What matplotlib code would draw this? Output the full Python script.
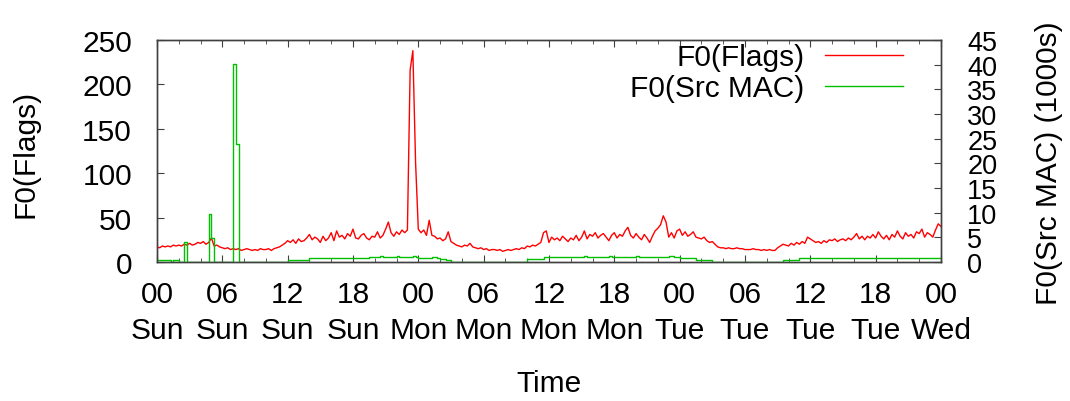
import numpy as np
import matplotlib.pyplot as plt
from matplotlib.ticker import MultipleLocator

plt.rcParams['font.family'] = ['Liberation Sans', 'DejaVu Sans']

# Tick labels for the time axis (every 6 hours)
tick_hours = [0, 6, 12, 18, 24, 30, 36, 42, 48, 54, 60, 66, 72]
tick_labels = ["00\nSun", "06\nSun", "12\nSun", "18\nSun",
               "00\nMon", "06\nMon", "12\nMon", "18\nMon",
               "00\nTue", "06\nTue", "12\nTue", "18\nTue", "00\nWed"]

# Sampling step of both series, in hours (15 minutes)
step = 0.25

# F0(Flags), one value per 15 minutes
flags = [
    17, 16, 18, 17, 18, 17, 19, 18, 19, 18, 20, 19,
    21, 19, 20, 22, 21, 23, 20, 22, 27, 18, 19, 17,
    16, 15, 16, 14, 15, 14, 15, 13, 14, 15, 14, 13,
    14, 13, 15, 14, 14, 15, 13, 15, 16, 17, 19, 21,
    24, 22, 25, 21, 26, 23, 24, 27, 31, 25, 28, 26,
    22, 29, 24, 27, 33, 24, 35, 28, 30, 26, 32, 29,
    37, 27, 26, 30, 32, 27, 25, 29, 28, 34, 27, 30,
    37, 45, 33, 29, 34, 31, 36, 33, 36, 216, 238, 112,
    37, 33, 36, 30, 47, 30, 29, 26, 27, 24, 26, 34,
    23, 21, 19, 18, 17, 19, 18, 21, 17, 16, 15, 16,
    14, 15, 13, 14, 14, 13, 14, 12, 13, 14, 13, 14,
    15, 14, 16, 15, 18, 17, 19, 18, 20, 22, 33, 35,
    22, 28, 25, 27, 24, 29, 26, 23, 27, 25, 30, 24,
    28, 35, 26, 31, 29, 33, 27, 30, 32, 28, 24, 30,
    33, 27, 31, 29, 35, 39, 30, 27, 32, 28, 25, 31,
    27, 22, 29, 35, 38, 42, 52, 45, 28, 33, 27, 35,
    37, 30, 34, 29, 31, 34, 28, 27, 26, 28, 24, 22,
    23, 20, 17, 16, 16, 15, 16, 15, 15, 16, 15, 15,
    14, 14, 14, 15, 14, 14, 13, 14, 13, 14, 13, 13,
    16, 18, 20, 19, 18, 21, 19, 22, 20, 23, 21, 28,
    26, 24, 22, 23, 21, 24, 22, 25, 24, 26, 23, 25,
    26, 24, 27, 25, 28, 32, 26, 29, 25, 29, 27, 31,
    27, 34, 29, 26, 30, 25, 31, 28, 35, 29, 26, 33,
    29, 31, 27, 34, 32, 37, 28, 33, 31, 28, 36, 43,
    40,
]

# F0(Src MAC) in thousands, one value per 15 minutes
src_mac = [
    .5, .5, .5, .5, .5, 0, .5, .5, 0, 0, 4.0, 0,
    0, 0, 0, 0, 0, 0, 0, 9.8, 4.9, 0, 0, 0,
    0, 0, 0, 0, 40.2, 24.0, 0, 0, 0, 0, 0, 0,
    0, 0, 0, 0, 0, 0, 0, 0, 0, 0, 0, 0,
    .4, .4, .4, .4, .4, .4, .4, .4, .75, .75, .75, .75,
    .75, .75, .75, .75, .75, .75, .75, .75, .75, .75, .75, .75,
    .75, .75, .75, .75, .75, .75, 1.1, 1.1, 1.1, 1.1, 1.2, 1.1,
    1.1, 1.0, 1.1, 1.1, 1.2, 1.1, 1.1, 1.0, 1.1, 1.1, 1.2, 1.1,
    .8, .8, .8, .8, .8, 1.1, 1.1, .8, .6, .6, .4, .4,
    0, 0, 0, 0, 0, 0, 0, 0, 0, 0, 0, 0,
    0, 0, 0, 0, 0, 0, 0, 0, 0, 0, 0, 0,
    0, 0, 0, 0, .7, .7, .7, .7, .7, .7, 1.0, 1.0,
    1.0, 1.0, 1.0, 1.0, 1.0, 1.0, 1.0, 1.0, 1.0, 1.0, 1.0, 1.0,
    1.0, 1.2, 1.0, 1.0, 1.0, 1.0, 1.0, 1.0, 1.0, 1.0, 1.2, 1.0,
    1.0, 1.0, 1.0, 1.0, 1.0, 1.0, 1.0, 1.0, 1.2, 1.0, 1.0, 1.0,
    1.0, 1.0, 1.0, 1.0, 1.0, 1.0, 1.0, 1.0, 1.2, 1.2, 1.0, 1.0,
    .75, .75, .75, .75, .75, .75, .4, .4, .4, .4, .4, .4,
    0, 0, 0, 0, 0, 0, 0, 0, 0, 0, 0, 0,
    0, 0, 0, 0, 0, 0, 0, 0, 0, 0, 0, 0,
    0, 0, .5, .5, .5, .5, .5, .5, .75, .75, .75, .75,
    .75, .75, .75, .75, .75, .75, .75, .9, .75, .75, .75, .75,
    .75, .9, .75, .75, .75, .9, .75, .75, .75, .75, .75, .75,
    .75, .75, .75, .75, .75, .75, .75, .75, .75, .75, .75, .75,
    .75, .75, .75, .75, .75, .75, .75, .75, .75, .75, .75, .75,
    .75,
]

hours = np.arange(len(flags)) * step

fs = 21.5
fs_right = 19.5
frame_color = '#404040'

fig = plt.figure(figsize=(10.7, 4.02), dpi=100)
ax = fig.add_axes([0.1467, 0.3458, 0.7327, 0.5522])
ax2 = ax.twinx()

l1, = ax.plot(hours, flags, color='#ff0000', lw=1.0, label='F0(Flags)')
# Src MAC counts are held constant between samples
l2, = ax2.plot(hours, src_mac, color='#00c000', lw=1.0, drawstyle='steps-post',
               label='F0(Src MAC)')

ax.set_xlim(0, 72)
ax.set_ylim(0, 250)
ax2.set_ylim(0, 45)

ax.set_xticks(tick_hours)
ax.set_xticklabels(tick_labels, linespacing=1.35)
ax.xaxis.set_minor_locator(MultipleLocator(2))
ax.set_yticks(np.arange(0, 251, 50))
ax2.set_yticks(np.arange(0, 46, 5))

ax.tick_params(axis='x', which='both', direction='in', top=True, labelsize=fs,
               pad=13, color=frame_color)
ax.tick_params(axis='x', which='major', length=5)
ax.tick_params(axis='x', which='minor', length=3)
ax.tick_params(axis='y', direction='in', labelsize=fs, pad=18, length=5,
               color=frame_color)
ax2.tick_params(axis='y', direction='in', labelsize=fs_right, pad=19, length=5,
                color=frame_color)

for a in (ax, ax2):
    for s in a.spines.values():
        s.set_color(frame_color)
        s.set_linewidth(1.0)

ax.set_xlabel('Time', fontsize=fs)
ax.xaxis.set_label_coords(0.5, -0.48)
ax.set_ylabel('F0(Flags)', fontsize=fs)
ax.yaxis.set_label_coords(-0.15, 0.49)
ax2.set_ylabel('F0(Src MAC) (1000s)', fontsize=fs)
ax2.yaxis.set_label_coords(1.12, 0.45)

ax2.legend(handles=[l1, l2], loc='upper right', bbox_to_anchor=(0.9515, 0.985),
           frameon=False, markerfirst=False, fontsize=fs, handlelength=2.6,
           handletextpad=0.7, labelspacing=0.1, borderaxespad=0, borderpad=0)

fig.savefig('out.png', dpi=100)
